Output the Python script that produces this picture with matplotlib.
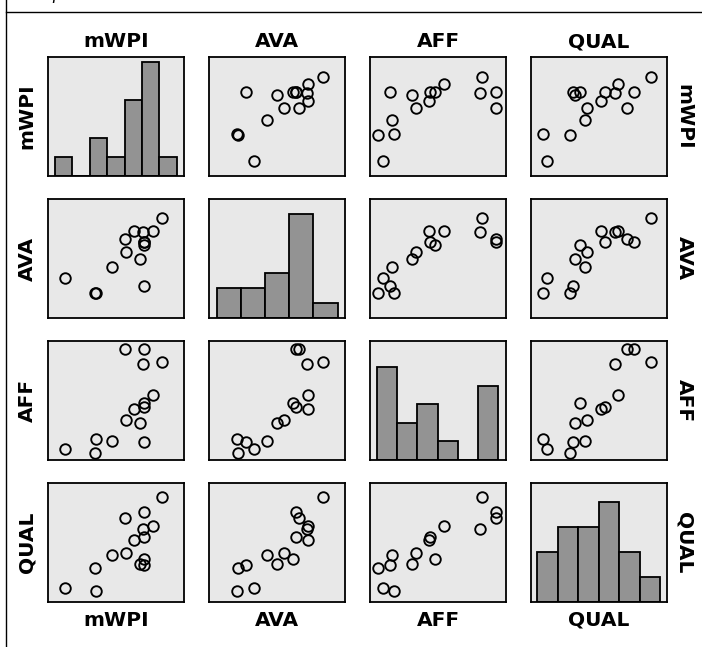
import matplotlib
matplotlib.use("Agg")
import matplotlib.pyplot as plt
from matplotlib.lines import Line2D

plt.rcParams['font.family'] = ['DejaVu Sans']

# ---- data (15 observations, values on a 0-100 display scale) ----
variables = ["mWPI", "AVA", "AFF", "QUAL"]
mWPI = [83.5, 63.1, 69.8, 77.2, 56.8, 70.8, 70.8, 70.6, 57.3, 68.0, 47.4, 12.3, 35.3, 34.4, 70.8]
AVA  = [84.0, 72.9, 72.4, 72.8, 66.5, 64.0, 61.7, 63.7, 55.2, 49.8, 42.7, 33.2, 20.7, 21.0, 27.0]
AFF  = [82.2, 43.2, 81.0, 54.3, 93.0, 93.0, 47.9, 44.2, 33.8, 31.2, 15.9, 9.5, 17.3, 6.2, 15.0]
QUAL = [88.5, 51.7, 61.5, 63.8, 70.4, 76.0, 36.3, 54.5, 41.3, 32.1, 39.8, 12.0, 8.9, 28.5, 30.7]

# histogram break points for each variable
bins_mWPI = [4.9, 17.7, 30.6, 43.4, 56.3, 69.1, 81.9, 94.6]
bins_AVA  = [5.7, 23.5, 41.2, 59.0, 76.8, 94.6]
bins_AFF  = [4.9, 19.8, 34.6, 49.9, 64.7, 79.5, 94.3]
bins_QUAL = [4.5, 19.9, 34.7, 50.1, 64.8, 80.1, 95.0]

data = {"mWPI": mWPI, "AVA": AVA, "AFF": AFF, "QUAL": QUAL}
bins = {"mWPI": bins_mWPI, "AVA": bins_AVA, "AFF": bins_AFF, "QUAL": bins_QUAL}
hist_top = {"mWPI": 6.28, "AVA": 8.0, "AFF": 6.39, "QUAL": 4.77}

W, H = 702, 647
fig = plt.figure(figsize=(W / 100, H / 100), dpi=100)

col_left = [48, 209, 370, 531]
row_top = [57, 199, 341, 483]
pw, ph = 136, 119

panel_bg = "#e8e8e8"
bar_col = "#939393"

for i, vy in enumerate(variables):
    for j, vx in enumerate(variables):
        l = col_left[j] / W
        b = 1 - (row_top[i] + ph) / H
        ax = fig.add_axes([l, b, pw / W, ph / H])
        ax.set_facecolor(panel_bg)
        if i == j:
            ax.hist(data[vx], bins=bins[vx], color=bar_col, edgecolor="black", linewidth=1.3)
            ax.set_ylim(0, hist_top[vx])
        else:
            ax.plot(data[vx], data[vy], linestyle="none", marker="o", markersize=7.6,
                    markerfacecolor="none", markeredgecolor="black", markeredgewidth=1.35)
            ax.set_ylim(0, 100)
        ax.set_xlim(0, 100)
        ax.set_xticks([])
        ax.set_yticks([])
        for s in ax.spines.values():
            s.set_linewidth(1.3)
            s.set_color("black")

# variable labels around the matrix
fs = 14.5
for k, v in enumerate(variables):
    cx = (col_left[k] + pw / 2) / W
    fig.text(cx, 1 - 41.5 / H, v, ha="center", va="center", fontsize=fs, fontweight="bold")
    fig.text(cx, 1 - 620 / H, v, ha="center", va="center", fontsize=fs, fontweight="bold")
    cy = 1 - (row_top[k] + ph / 2) / H
    fig.text(27 / W, cy, v, ha="center", va="center", rotation=90, fontsize=fs, fontweight="bold")
    fig.text(684 / W, cy, v, ha="center", va="center", rotation=270, fontsize=fs, fontweight="bold")

# page frame lines and cut-off caption text
fig.add_artist(Line2D([6 / W, 1], [1 - 12 / H, 1 - 12 / H], color="black", linewidth=1.0))
fig.add_artist(Line2D([6 / W, 6 / W], [0, 1], color="black", linewidth=1.0))
fig.text(51 / W, 1 + 1.5 / H, "p", ha="left", va="baseline", fontsize=12,
         fontstyle="italic", family="DejaVu Serif")

fig.savefig("out.png", dpi=100)
